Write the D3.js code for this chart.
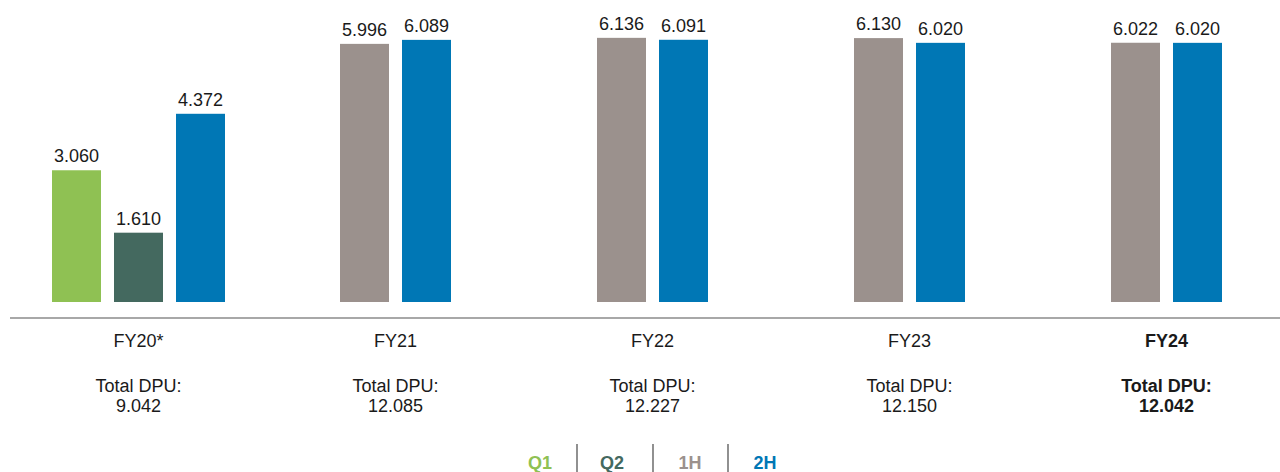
<!DOCTYPE html>
<html>
<head>
<meta charset="utf-8">
<script src="https://cdn.jsdelivr.net/npm/d3@7"></script>
<style>
  html, body { margin: 0; padding: 0; background: #fff; }
  svg { display: block; font-family: "Liberation Sans", Arial, sans-serif; }
</style>
</head>
<body>
<svg id="chart" width="1280" height="472"></svg>
<script>
// Fiscal years and their distribution periods
const years = ["FY20*", "FY21", "FY22", "FY23", "FY24"];
const periods = [["Q1", "Q2", "2H"], ["1H", "2H"], ["1H", "2H"], ["1H", "2H"], ["1H", "2H"]];
const dpuValues = [[3.060, 1.610, 4.372], [5.996, 6.089], [6.136, 6.091], [6.130, 6.020], [6.022, 6.020]];
const totals = ["9.042", "12.085", "12.227", "12.150", "12.042"];
const legendKeys = ["Q1", "Q2", "1H", "2H"];
const colors = { Q1: "#8fc153", Q2: "#44695f", "1H": "#9b918d", "2H": "#0077b5" };
const highlightYear = "FY24";

const svg = d3.select("#chart");
const baseY = 302;

const x0 = d3.scaleBand().domain(years).range([10, 1295]).padding(0);
const y = d3.scaleLinear().domain([0, 7]).range([baseY, baseY - 7 * 43.05]);

const groups = svg.selectAll("g.year")
  .data(years.map((yr, i) => ({ yr, keys: periods[i], vals: dpuValues[i], total: totals[i] })))
  .join("g")
  .attr("class", "year")
  .attr("transform", d => `translate(${x0(d.yr) + x0.bandwidth() / 2},0)`);

groups.each(function (d) {
  const g = d3.select(this);
  const n = d.keys.length;
  const x1 = d3.scaleBand().domain(d.keys).range([-n * 31, n * 31])
    .paddingInner(13 / 62).paddingOuter(13 / 124);
  const items = d.keys.map((k, j) => ({ k, v: d.vals[j] }));

  g.selectAll("rect").data(items).join("rect")
    .attr("x", e => x1(e.k))
    .attr("y", e => y(e.v))
    .attr("width", x1.bandwidth())
    .attr("height", e => baseY - y(e.v))
    .attr("fill", e => colors[e.k]);

  g.selectAll("text.val").data(items).join("text")
    .attr("class", "val")
    .attr("x", e => x1(e.k) + x1.bandwidth() / 2)
    .attr("y", e => y(e.v) - 8)
    .attr("text-anchor", "middle")
    .attr("font-size", 18)
    .attr("fill", "#1a1a1a")
    .text(e => e.v.toFixed(3));

  const bold = d.yr === highlightYear ? "bold" : "normal";
  const lbl = [[d.yr, 347], ["Total DPU:", 392], [d.total, 412]];
  g.selectAll("text.cat").data(lbl).join("text")
    .attr("class", "cat")
    .attr("x", 0)
    .attr("y", e => e[1])
    .attr("text-anchor", "middle")
    .attr("font-size", 18)
    .attr("font-weight", bold)
    .attr("fill", "#1a1a1a")
    .text(e => e[0]);
});

// baseline rule
svg.append("line")
  .attr("x1", 10).attr("x2", 1280)
  .attr("y1", 318).attr("y2", 318)
  .attr("stroke", "#a8a8a8").attr("stroke-width", 2);

// legend
const legendCenters = [540, 612, 690, 765];
const legend = svg.append("g");
legend.selectAll("text").data(legendKeys).join("text")
  .attr("x", (k, i) => legendCenters[i])
  .attr("y", 469)
  .attr("text-anchor", "middle")
  .attr("font-size", 18)
  .attr("font-weight", "bold")
  .attr("fill", k => colors[k])
  .text(k => k);
legend.selectAll("line").data([577, 653, 728]).join("line")
  .attr("x1", d => d).attr("x2", d => d)
  .attr("y1", 444).attr("y2", 472)
  .attr("stroke", "#555").attr("stroke-width", 1.3);
</script>
</body>
</html>
